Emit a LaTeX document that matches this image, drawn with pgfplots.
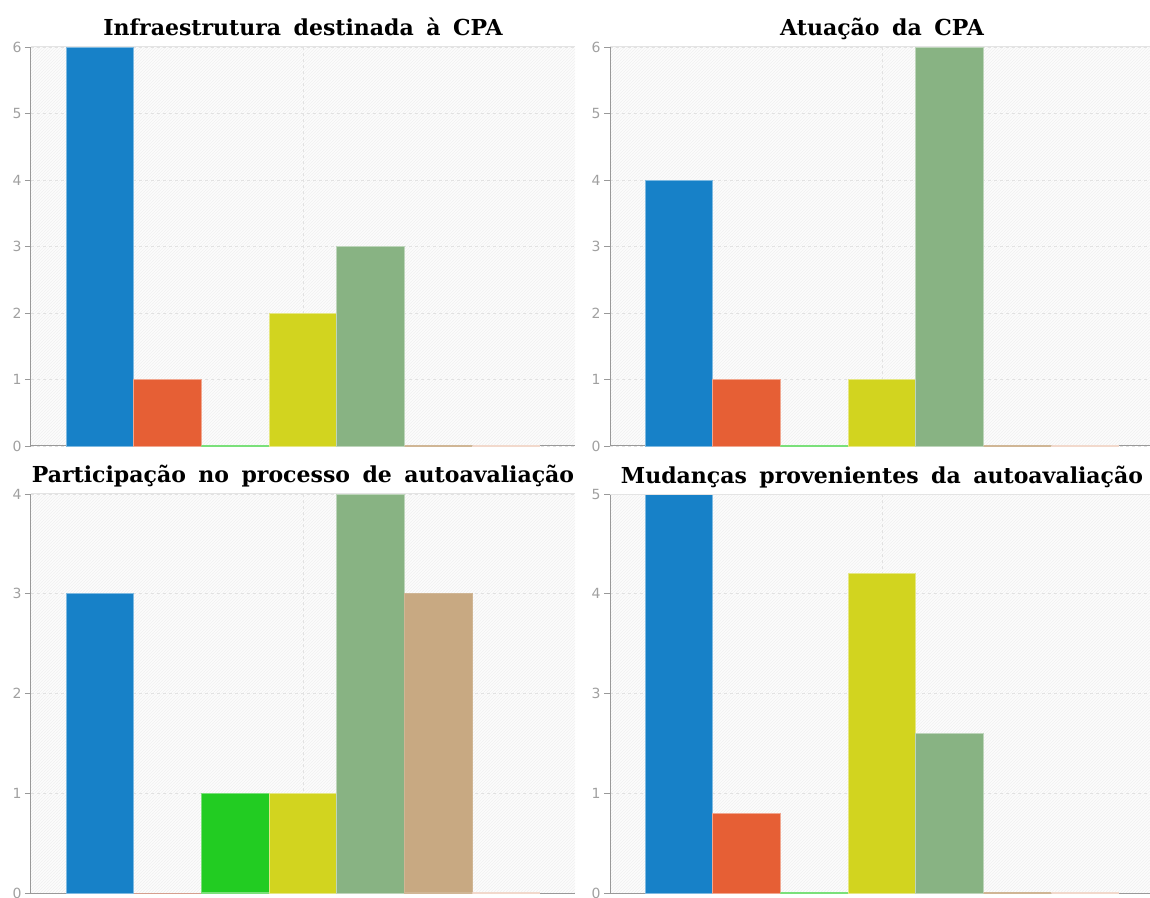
\documentclass[border=0pt]{standalone}
\usepackage{fontspec}
\setmainfont{DejaVu Sans}
\newfontfamily\titlefont{DejaVu Serif}
\usepackage{pgfplots}
\pgfplotsset{compat=1.18}
\usetikzlibrary{patterns}

\newcommand\titlefmt{\titlefont\bfseries\fontsize{22}{24}\selectfont\spaceskip=12.5pt\relax}

\definecolor{cBlue}{HTML}{1781C8}
\definecolor{cOrange}{HTML}{E65F35}
\definecolor{cGreen}{HTML}{22CC22}
\definecolor{cYellow}{HTML}{D2D41F}
\definecolor{cSage}{HTML}{88B383}
\definecolor{cTan}{HTML}{C8A982}
\definecolor{cPeach}{HTML}{F2D9CC}
\definecolor{bggray}{HTML}{FCFCFC}
\definecolor{hatch}{HTML}{F1F1F1}
\definecolor{gridgray}{HTML}{E2E2E2}
\definecolor{axisgray}{HTML}{999999}
\definecolor{tickgray}{HTML}{A0A0A0}
\definecolor{topgray}{HTML}{E4E4E4}

\pgfplotsset{
  panel/.style={
    ybar=0pt, bar width=67.7pt,
    scale only axis, width=544pt, height=399pt,
    xmin=-1, xmax=1, ymin=0, clip=false,
    xtick={0}, xticklabels={},
    major x tick style={draw=none},
    xmajorgrids, ymajorgrids,
    grid style={dashed, color=gridgray, line width=0.8pt},
    axis x line*=bottom, axis y line*=left,
    axis line style={-, draw=axisgray, line width=1pt},
    tick align=outside, major tick length=6pt,
    ytick style={draw=axisgray, line width=0.8pt},
    /pgf/number format/assume math mode=true,
    yticklabel style={font=\fontsize{14}{14}\selectfont, text=tickgray},
    axis background/.style={fill=bggray, postaction={pattern=north east lines, pattern color=hatch}},
    title style={font=\titlefmt, anchor=base, at={(0.5,1)}, yshift=5pt},
    extra description/.code={\draw[topgray, line width=1pt] (rel axis cs:0,1) -- (rel axis cs:1,1);},
    cycle list={
      {fill=cBlue, draw=cBlue!55!white, line width=0.8pt},
      {fill=cOrange, draw=cOrange!55!white, line width=0.8pt},
      {fill=cGreen, draw=cGreen!60!white, line width=1.3pt},
      {fill=cYellow, draw=cYellow!55!white, line width=0.8pt},
      {fill=cSage, draw=cSage!55!white, line width=0.8pt},
      {fill=cTan, draw=cTan!85!white, line width=1.3pt},
      {fill=cPeach, draw=cPeach, line width=1.3pt}
    },
  }
}

\begin{document}
\begin{tikzpicture}
\useasboundingbox (0,0) rectangle (1150pt,897pt);

% top left
\begin{axis}[panel, at={(31pt,451pt)}, anchor=south west,
  ymax=6, ytick={0,1,2,3,4,5,6},
  title={Infraestrutura destinada à CPA}]
\addplot coordinates {(0,6)};
\addplot coordinates {(0,1)};
\addplot coordinates {(0,0)};
\addplot coordinates {(0,2)};
\addplot coordinates {(0,3)};
\addplot coordinates {(0,0)};
\addplot coordinates {(0,0)};
\end{axis}

% top right
\begin{axis}[panel, at={(610pt,451pt)}, anchor=south west,
  ymax=6, ytick={0,1,2,3,4,5,6},
  title={Atuação da CPA}]
\addplot coordinates {(0,4)};
\addplot coordinates {(0,1)};
\addplot coordinates {(0,0)};
\addplot coordinates {(0,1)};
\addplot coordinates {(0,6)};
\addplot coordinates {(0,0)};
\addplot coordinates {(0,0)};
\end{axis}

% bottom left
\begin{axis}[panel, at={(31pt,4pt)}, anchor=south west,
  ymax=4, ytick={0,1,2,3,4},
  title={Participação no processo de autoavaliação}]
\addplot coordinates {(0,3)};
\addplot coordinates {(0,0)};
\addplot coordinates {(0,1)};
\addplot coordinates {(0,1)};
\addplot coordinates {(0,4)};
\addplot coordinates {(0,3)};
\addplot coordinates {(0,0)};
\end{axis}

% bottom right
\begin{axis}[panel, at={(610pt,4pt)}, anchor=south west,
  ymax=5, ytick={0,1.25,2.5,3.75,5}, yticklabels={0,1,3,4,5},
  title={Mudanças provenientes da autoavaliação}]
\addplot coordinates {(0,5)};
\addplot coordinates {(0,1)};
\addplot coordinates {(0,0)};
\addplot coordinates {(0,4)};
\addplot coordinates {(0,2)};
\addplot coordinates {(0,0)};
\addplot coordinates {(0,0)};
\end{axis}
\end{tikzpicture}
\end{document}
